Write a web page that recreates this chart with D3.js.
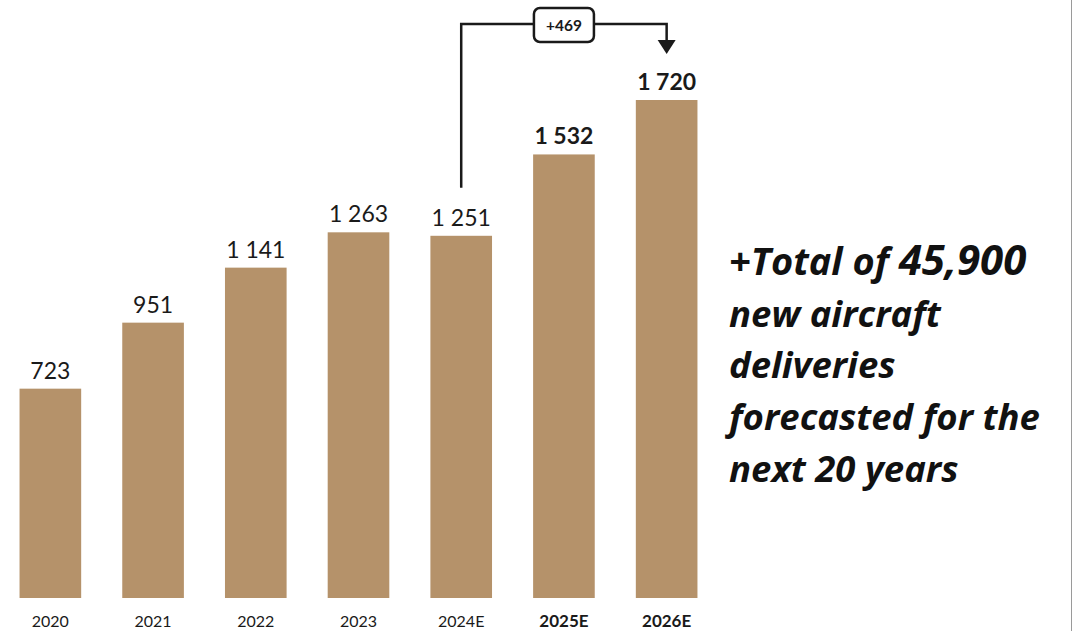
<!DOCTYPE html>
<html>
<head>
<meta charset="utf-8">
<script src="https://cdn.jsdelivr.net/npm/d3@7"></script>
<style>
  body { margin: 0; background: #fff; }
  svg { display: block; }
</style>
</head>
<body>
<svg id="chart"></svg>
<script>
const width = 1073;
const height = 631;

// data
const years = ['2020', '2021', '2022', '2023', '2024E', '2025E', '2026E'];
const deliveries = [723, 951, 1141, 1263, 1251, 1532, 1720];
const boldYears = ['2025E', '2026E'];
const deltaFrom = '2024E';
const deltaTo = '2026E';
const deltaLabel = '+469';
// [text, size] pieces per line of the side note
const noteLines = [
    [['+Total of ', 38], ['45,900', 42]],
    [['new aircraft', 36.5]],
    [['deliveries', 36.5]],
    [['forecasted for the', 36.5]],
    [['next 20 years', 36.5]]
];

const barColor = '#b5926a';
const ink = '#1a1a1a';

const svg = d3.select('#chart')
    .attr('width', width)
    .attr('height', height)
    .attr('font-family', 'Lato, sans-serif');

const x = d3.scaleBand()
    .domain(years)
    .range([-1, 718])
    .paddingInner(0.4)
    .paddingOuter(0.2);

const y = d3.scaleLinear()
    .domain([0, 1720])
    .range([598, 100]);

// format "1 263" with a plain space as thousands separator
const fmt = v => d3.format(',')(v).replace(',', ' ');

svg.append('g')
    .selectAll('rect')
    .data(years)
    .join('rect')
    .attr('x', d => x(d))
    .attr('y', (d, i) => y(deliveries[i]))
    .attr('width', x.bandwidth())
    .attr('height', (d, i) => y(0) - y(deliveries[i]))
    .attr('fill', barColor);

// value labels
svg.append('g')
    .selectAll('text')
    .data(years)
    .join('text')
    .attr('x', d => x(d) + x.bandwidth() / 2)
    .attr('y', (d, i) => y(deliveries[i]) - 10)
    .attr('text-anchor', 'middle')
    .attr('font-size', 23)
    .attr('font-weight', d => boldYears.includes(d) ? 700 : 400)
    .attr('fill', ink)
    .text((d, i) => fmt(deliveries[i]));

// year labels
svg.append('g')
    .selectAll('text')
    .data(years)
    .join('text')
    .attr('x', d => x(d) + x.bandwidth() / 2)
    .attr('y', 627)
    .attr('text-anchor', 'middle')
    .attr('font-size', d => boldYears.includes(d) ? 17 : 16)
    .attr('font-weight', d => boldYears.includes(d) ? 700 : 400)
    .attr('fill', ink)
    .text(d => d);

// bracket connector from 2024E to 2026E
const fromX = x(deltaFrom) + x.bandwidth() / 2;
const toX = x(deltaTo) + x.bandwidth() / 2;
const topY = 24;
const connector = svg.append('g');
connector.append('path')
    .attr('d', `M${fromX},${y(deliveries[years.indexOf(deltaFrom)]) - 48}V${topY}H${toX}V42`)
    .attr('fill', 'none')
    .attr('stroke', ink)
    .attr('stroke-width', 2.5);
connector.append('path')
    .attr('d', `M${toX - 9},40L${toX + 9},40L${toX},54Z`)
    .attr('fill', ink);

const boxX = (fromX + toX) / 2;
connector.append('rect')
    .attr('x', boxX - 30)
    .attr('y', 8)
    .attr('width', 60)
    .attr('height', 34)
    .attr('rx', 6)
    .attr('fill', '#fff')
    .attr('stroke', ink)
    .attr('stroke-width', 2.5);
connector.append('text')
    .attr('x', boxX)
    .attr('y', 31)
    .attr('text-anchor', 'middle')
    .attr('font-size', 15.5)
    .attr('font-weight', 700)
    .attr('fill', ink)
    .text(deltaLabel);

// side note
const note = svg.append('text')
    .attr('font-family', '"Open Sans", sans-serif')
    .attr('font-style', 'italic')
    .attr('font-weight', 700)
    .attr('fill', '#111');
noteLines.forEach((line, i) => {
    line.forEach(([t, size], j) => {
        const ts = note.append('tspan').text(t).attr('font-size', size);
        if (j === 0) ts.attr('x', 729).attr('y', 275 + i * 51.7);
    });
});

// thin frame line on the right edge
svg.append('line')
    .attr('x1', 1071.5).attr('x2', 1071.5)
    .attr('y1', 0).attr('y2', height)
    .attr('stroke', '#9a9a9a')
    .attr('stroke-width', 1);
</script>
</body>
</html>
